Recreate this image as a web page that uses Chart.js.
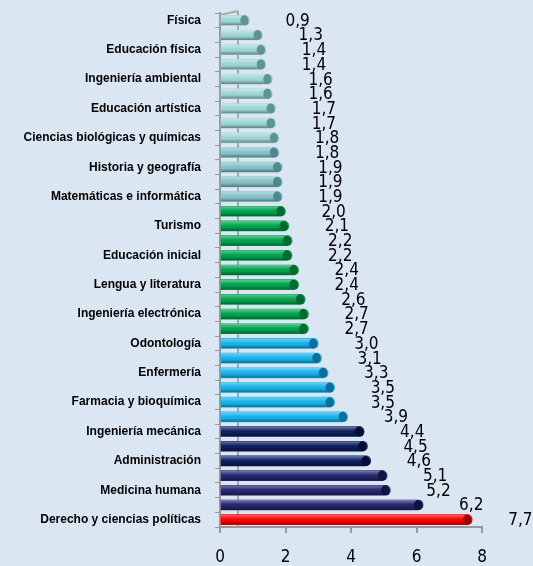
<!DOCTYPE html>
<html>
<head>
<meta charset="utf-8">
<script src="https://cdn.jsdelivr.net/npm/chart.js@4/dist/chart.umd.min.js"></script>
<style>
  html, body { margin: 0; padding: 0; background: #dae7f3; }
  #wrap { width: 533px; height: 566px; }
</style>
</head>
<body>
<div id="wrap"><canvas id="grafico"></canvas></div>
<script>
// categorías (sólo una de cada dos lleva rótulo en el original)
const categories = [
    'Física', '', 'Educación física', '', 'Ingeniería ambiental', '',
    'Educación artística', '', 'Ciencias biológicas y químicas', '',
    'Historia y geografía', '', 'Matemáticas e informática', '', 'Turismo', '',
    'Educación inicial', '', 'Lengua y literatura', '', 'Ingeniería electrónica', '',
    'Odontología', '', 'Enfermería', '', 'Farmacia y bioquímica', '',
    'Ingeniería mecánica', '', 'Administración', '', 'Medicina humana', '',
    'Derecho y ciencias políticas'
];
const values = [
    0.9, 1.3, 1.4, 1.4, 1.6, 1.6, 1.7, 1.7, 1.8, 1.8, 1.9, 1.9, 1.9,
    2.0, 2.1, 2.2, 2.2, 2.4, 2.4, 2.6, 2.7, 2.7,
    3.0, 3.1, 3.3, 3.5, 3.5, 3.9,
    4.4, 4.5, 4.6,
    5.1, 5.2, 6.2,
    7.7
];
const xTicks = [0, 2, 4, 6, 8];

// colores por grupo
const groupColors = [
    { n: 9,  fill: '#9fd6d3', cap: '#5d9595' },
    { n: 4,  fill: '#84c2c9', cap: '#4f878f' },
    { n: 9,  fill: '#00a34f', cap: '#006b30' },
    { n: 6,  fill: '#17b2ea', cap: '#0a6f9e' },
    { n: 3,  fill: '#0c1f5e', cap: '#050d30' },
    { n: 3,  fill: '#25266f', cap: '#121240' },
    { n: 1,  fill: '#ff0000', cap: '#a00000' }
];
const barColors = [], capColors = [];
groupColors.forEach(g => {
    for (let i = 0; i < g.n; i++) { barColors.push(g.fill); capColors.push(g.cap); }
});

// efecto cilindro + rótulos de valor
const cilindro = {
    id: 'cilindro',
    beforeDatasetsDraw(chart) {
        const c = chart.ctx, a = chart.chartArea;
        c.save();
        c.strokeStyle = '#a8a8a8';
        c.lineWidth = 2;
        c.beginPath();
        c.moveTo(a.left, a.top + 2);
        c.lineTo(a.left + 18, a.top - 2);
        c.moveTo(a.left + 18, a.top - 2);
        c.lineTo(a.left + 18, a.bottom);
        c.stroke();
        c.restore();
    },
    afterDatasetsDraw(chart) {
        const c = chart.ctx;
        const meta = chart.getDatasetMeta(0);
        meta.data.forEach((bar, i) => {
            const h = bar.height, top = bar.y - h / 2;
            const left = bar.base, right = bar.x;
            c.save();
            c.beginPath();
            c.roundRect(left, top, right - left, h, [0, h / 2, h / 2, 0]);
            c.clip();
            const g = c.createLinearGradient(0, top, 0, top + h);
            g.addColorStop(0, 'rgba(255,255,255,0.4)');
            g.addColorStop(0.4, 'rgba(255,255,255,0.05)');
            g.addColorStop(0.6, 'rgba(0,0,0,0)');
            g.addColorStop(1, 'rgba(0,0,0,0.4)');
            c.fillStyle = g;
            c.fillRect(left, top, right - left, h);
            c.restore();
            c.save();
            c.fillStyle = capColors[i];
            c.beginPath();
            c.ellipse(right - h / 2, bar.y, h / 2.4, h / 2, 0, 0, Math.PI * 2);
            c.fill();
            c.restore();

            c.save();
            c.fillStyle = '#000';
            c.font = '17px "Liberation Sans Narrow", "DejaVu Sans Condensed", sans-serif';
            c.textAlign = 'left';
            c.textBaseline = 'middle';
            c.fillText(values[i].toFixed(1).replace('.', ','), right + 36, bar.y + 1);
            c.restore();
        });
    }
};

new Chart(document.getElementById('grafico'), {
    type: 'bar',
    data: {
        labels: categories,
        datasets: [{
            data: values,
            backgroundColor: barColors,
            borderWidth: 0,
            borderRadius: 5,
            barThickness: 10
        }]
    },
    options: {
        indexAxis: 'y',
        responsive: true,
        maintainAspectRatio: false,
        animation: false,
        layout: { padding: { top: 13, right: 51, left: 0, bottom: 0 } },
        plugins: { legend: { display: false }, tooltip: { enabled: false } },
        scales: {
            x: {
                min: 0, max: 8,
                afterBuildTicks: s => { s.ticks = xTicks.map(v => ({ value: v })); },
                afterFit: s => { s.height = 39; s.paddingLeft = 0; s.paddingRight = 0; },
                grid: { drawOnChartArea: false, tickLength: 6, color: '#999', lineWidth: 2 },
                border: { color: '#999', width: 2 },
                ticks: {
                    color: '#000', padding: 14,
                    font: { family: '"Liberation Sans Narrow", "DejaVu Sans Condensed", sans-serif', size: 17 }
                }
            },
            y: {
                afterFit: s => { s.width = 220; s.paddingTop = 0; s.paddingBottom = 0; },
                grid: { drawOnChartArea: false, tickLength: 5, color: '#999', offset: true },
                border: { color: '#999', width: 2 },
                ticks: {
                    autoSkip: false, color: '#000', padding: 14,
                    font: { family: '"Liberation Sans", Arial, sans-serif', size: 12, weight: 'bold' }
                }
            }
        }
    },
    plugins: [cilindro]
});
</script>
</body>
</html>
